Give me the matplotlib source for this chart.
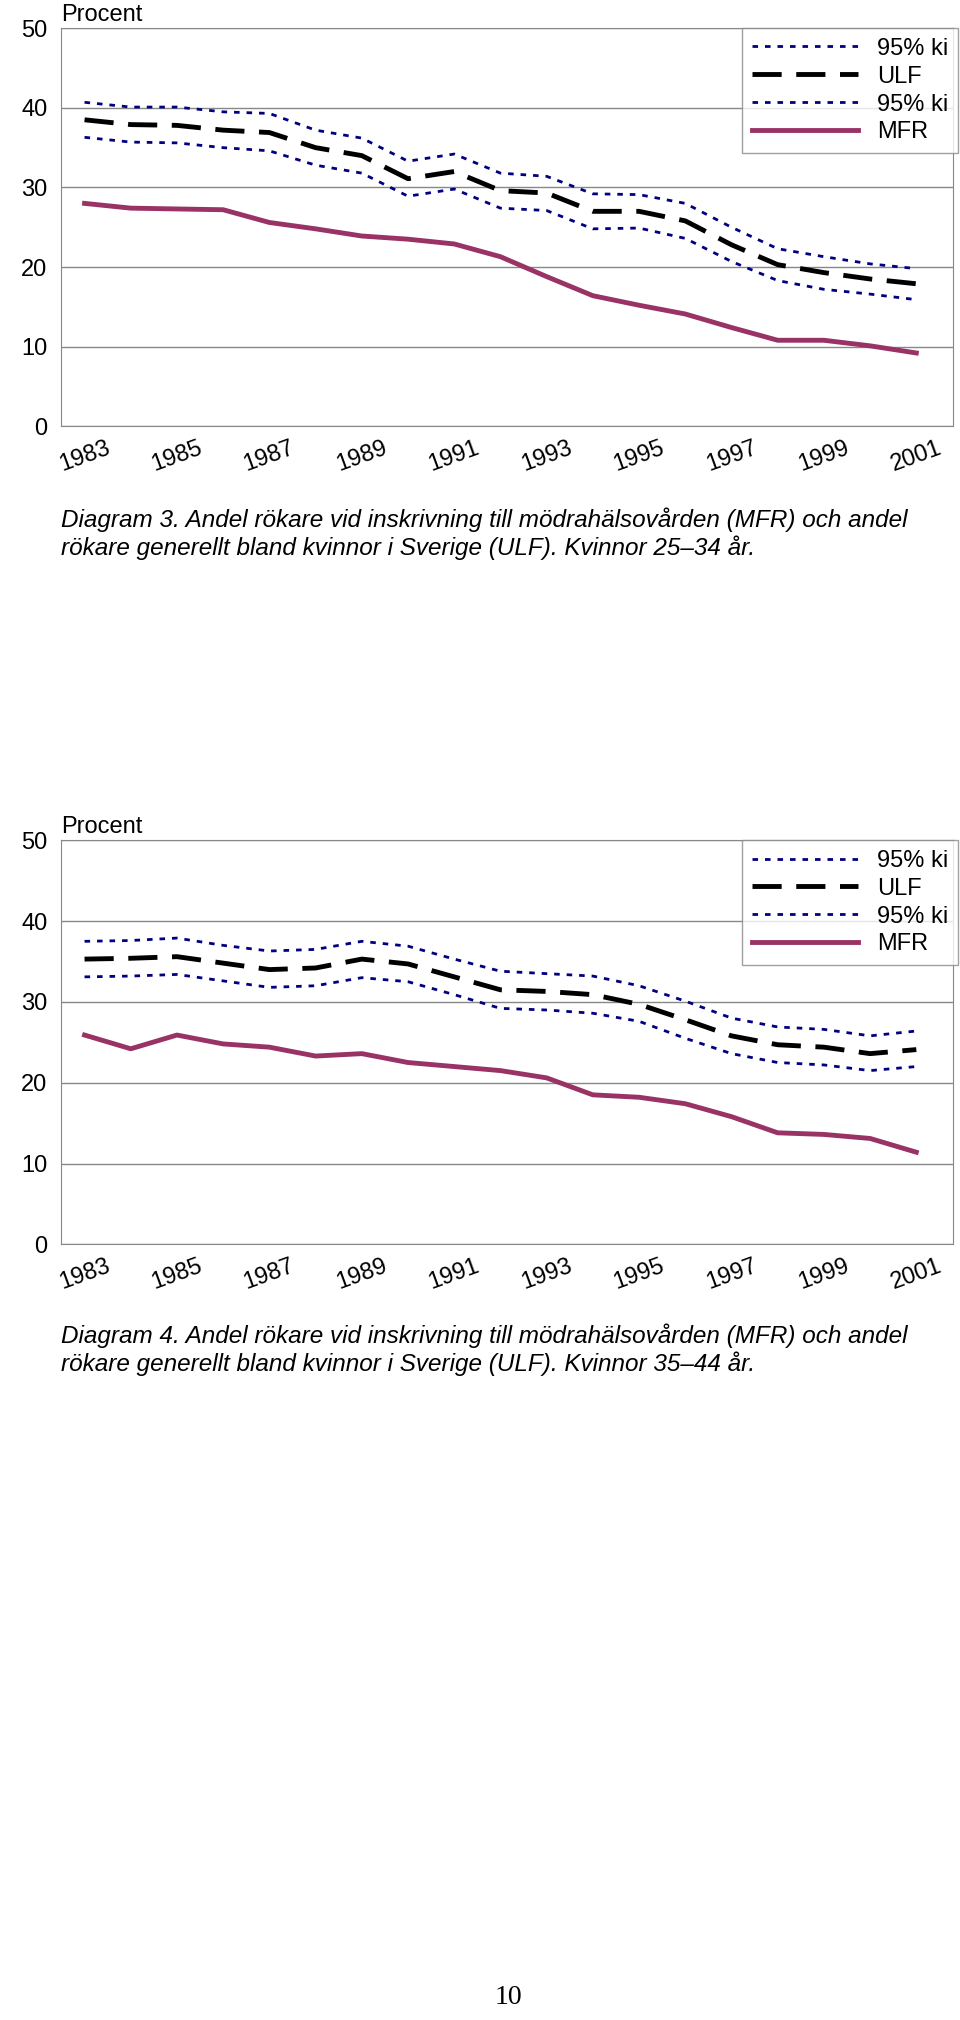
import matplotlib
matplotlib.use("Agg")
import matplotlib.pyplot as plt

years = list(range(1983, 2002))
tick_years = list(range(1983, 2002, 2))

# Diagram 3, kvinnor 25-34
mfr3 = [28.0, 27.4, 27.3, 27.2, 25.6, 24.8, 23.9, 23.5, 22.9, 21.3, 18.8, 16.4, 15.2, 14.1, 12.4, 10.8, 10.8, 10.1, 9.2]
ulf3 = [38.5, 37.9, 37.8, 37.2, 36.9, 35.0, 34.0, 31.1, 32.0, 29.6, 29.3, 27.0, 27.0, 25.8, 22.8, 20.3, 19.3, 18.5, 17.9]
hi3 = [40.7, 40.1, 40.1, 39.5, 39.3, 37.2, 36.2, 33.3, 34.2, 31.8, 31.4, 29.2, 29.1, 28.0, 25.0, 22.3, 21.3, 20.4, 19.8]
lo3 = [36.3, 35.7, 35.6, 35.0, 34.6, 32.8, 31.8, 28.9, 29.8, 27.4, 27.1, 24.8, 24.9, 23.6, 20.7, 18.3, 17.2, 16.6, 15.9]

# Diagram 4, kvinnor 35-44
mfr4 = [25.9, 24.2, 25.9, 24.8, 24.4, 23.3, 23.6, 22.5, 22.0, 21.5, 20.6, 18.5, 18.2, 17.4, 15.8, 13.8, 13.6, 13.1, 11.4]
ulf4 = [35.3, 35.4, 35.6, 34.8, 34.0, 34.2, 35.3, 34.7, 33.1, 31.5, 31.3, 30.9, 29.7, 27.8, 25.8, 24.7, 24.4, 23.6, 24.1]
hi4 = [37.5, 37.6, 37.9, 37.0, 36.3, 36.5, 37.5, 36.9, 35.3, 33.8, 33.5, 33.2, 32.0, 30.1, 28.0, 26.9, 26.6, 25.8, 26.4]
lo4 = [33.1, 33.2, 33.4, 32.6, 31.8, 32.0, 33.0, 32.5, 30.9, 29.2, 29.0, 28.6, 27.6, 25.5, 23.6, 22.5, 22.2, 21.5, 22.0]

plt.rcParams["font.family"] = "Liberation Sans"
fig = plt.figure(figsize=(9.6, 20.2), dpi=100)


def draw(rect, mfr, ulf, hi, lo, caption, cap_y):
    ax = fig.add_axes(rect)
    ax.plot(years, hi, color="#000080", linestyle=(0, (2, 2.5)), lw=2, label="95% ki")
    ax.plot(years, ulf, color="black", linestyle=(0, (6, 3)), lw=3.5, label="ULF")
    ax.plot(years, lo, color="#000080", linestyle=(0, (2, 2.5)), lw=2, label="95% ki")
    ax.plot(years, mfr, color="#993366", lw=3.5, label="MFR")
    ax.set_xlim(1982.5, 2001.8)
    ax.set_ylim(0, 50)
    ax.set_yticks(range(0, 51, 10))
    ax.set_xticks(tick_years)
    ax.set_xticklabels([str(y) for y in tick_years], rotation=20, fontsize=17)
    ax.tick_params(axis="y", labelsize=17, length=0, pad=10)
    ax.tick_params(axis="x", length=0, pad=8)
    ax.grid(axis="y", color="#888888", lw=1)
    ax.set_axisbelow(True)
    for s in ax.spines.values():
        s.set_color("#888888")
    ax.text(0.0, 1.005, "Procent", transform=ax.transAxes, fontsize=17, va="bottom")
    leg = ax.legend(loc="upper right", fontsize=17, frameon=True, fancybox=False,
                    edgecolor="#888888", handlelength=4.5, labelspacing=0.25,
                    borderaxespad=0.0, bbox_to_anchor=(1.005, 1.0))
    leg.get_frame().set_linewidth(1)
    fig.text(0.064, cap_y, caption, fontsize=17.5, style="italic", va="top", linespacing=1.2)


draw([0.064, 0.789, 0.929, 0.197], mfr3, ulf3, hi3, lo3,
     "Diagram 3. Andel rökare vid inskrivning till mödrahälsovården (MFR) och andel\n"
     "rökare generellt bland kvinnor i Sverige (ULF). Kvinnor 25–34 år.", 0.749)
draw([0.064, 0.384, 0.929, 0.200], mfr4, ulf4, hi4, lo4,
     "Diagram 4. Andel rökare vid inskrivning till mödrahälsovården (MFR) och andel\n"
     "rökare generellt bland kvinnor i Sverige (ULF). Kvinnor 35–44 år.", 0.345)

fig.text(0.53, 0.008, "10", fontsize=20, family="Liberation Serif", ha="center")
fig.savefig("out.png", dpi=100)
